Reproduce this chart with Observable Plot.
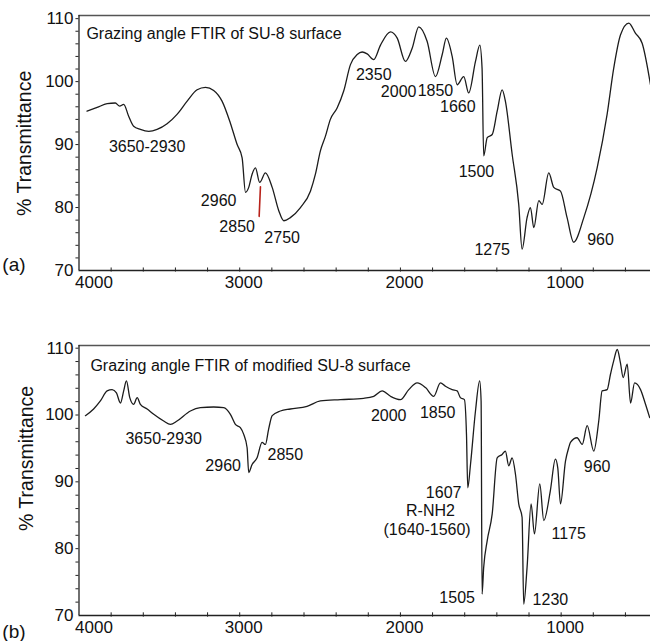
<!DOCTYPE html>
<html><head><meta charset="utf-8">
<script src="https://cdn.jsdelivr.net/npm/d3@7"></script>
<script src="https://cdn.jsdelivr.net/npm/@observablehq/plot@0.6"></script>
<style>
body{margin:0;background:#fff;}
#chart svg{display:block;}
</style></head><body><div id="chart"></div>
<script>
// ---- data: panel (a) SU-8 surface ----
const a_wn = [3950,3887,3825,3774,3747,3722,3691,3660,3618,3566,3514,3452,3390,3327,3265,3213,3162,3110,3058,3016,2985,2964,2944,2923,2902,2876,2840,2798,2757,2726,2685,2622,2560,2529,2498,2467,2436,2394,2353,2311,2269,2238,2207,2166,2124,2062,2020,1969,1927,1886,1834,1782,1740,1714,1678,1647,1606,1575,1533,1506,1492,1482,1460,1429,1398,1367,1347,1305,1264,1243,1212,1191,1170,1139,1118,1077,1046,1004,963,922,859,776,714,673,631,579,538,496,444];
const a_t = [95.3,95.9,96.5,96.6,96.1,96.4,94.5,92.9,92.4,92.1,92.4,93.3,94.8,96.9,98.7,99.1,98.6,96.9,93.4,90.0,87.9,82.4,83.2,85.3,86.3,84.0,85.5,83.2,79.5,77.9,78.4,80.0,82.6,85.3,89.0,91.3,94.0,95.8,98.5,102.7,104.3,104.7,104.4,103.5,105.8,107.9,106.9,103.2,105.3,108.7,106.4,100.8,104.3,106.9,104.0,99.5,100.8,98.2,103.2,105.8,102.1,88.2,91.1,91.6,95.3,98.7,96.9,88.5,80.5,73.4,78.4,80.0,76.8,81.1,80.5,85.5,83.2,82.6,78.4,74.5,78.4,86.3,94.8,102.1,107.4,109.3,107.7,106.1,99.5];
const a_title = "Grazing angle FTIR of SU-8 surface";
const a_labels = ["3650-2930","2960","2850","2750","2350","2000","1850","1660","1500","1275","960"];
const a_label_wn = [3576,3131,3016,2736,2166,2011,1782,1643,1527,1429,755];
const a_label_t = [89.7,81.1,76.9,75.2,101.0,98.3,98.6,96.0,85.6,73.3,74.9];
const a_marker_wn = [2871,2879];
const a_marker_t = [83.3,78.6];

// ---- data: panel (b) modified SU-8 surface ----
const b_wn = [3960,3909,3867,3825,3794,3767,3742,3722,3705,3684,3660,3638,3618,3576,3535,3473,3431,3390,3307,3245,3162,3100,3058,3027,2996,2975,2954,2944,2923,2892,2861,2840,2820,2798,2747,2685,2581,2498,2373,2228,2166,2114,2062,2000,1948,1896,1844,1793,1751,1720,1678,1647,1627,1602,1589,1581,1564,1533,1507,1498,1492,1482,1460,1429,1398,1367,1347,1326,1305,1284,1264,1243,1233,1212,1187,1166,1133,1108,1067,1036,1021,1004,973,953,942,901,869,838,797,766,745,714,693,673,651,631,614,589,568,543,506,475,449];
const b_t = [99.9,100.9,102.1,103.6,103.8,103.3,101.8,103.6,105.1,102.6,101.6,102.6,101.6,100.9,100.1,99.1,98.6,99.1,100.6,101.1,101.2,101.1,100.1,98.6,98.1,97.1,95.1,91.4,92.6,93.6,95.9,95.6,97.9,99.9,100.6,100.9,101.3,102.1,102.3,102.5,102.8,103.6,102.8,102.3,103.8,104.8,104.1,102.8,104.8,104.3,103.8,103.6,102.6,102.3,97.1,89.1,92.6,100.6,105.1,102.1,73.2,77.2,81.2,85.2,93.6,94.1,94.6,92.4,93.6,91.1,86.7,84.7,71.7,77.2,86.7,82.2,89.7,84.2,88.7,93.4,92.1,86.7,93.1,95.1,95.9,96.6,95.6,98.4,94.6,99.1,103.6,103.8,106.1,108.1,109.8,107.8,105.6,107.6,101.8,104.8,103.8,101.6,99.6];
const b_title = "Grazing angle FTIR of modified SU-8 surface";
const b_labels = ["3650-2930","2960","2850","2000","1850","1607","R-NH2","(1640-1560)","1505","1230","1175","960"];
const b_label_wn = [3473,3103,2716,2073,1768,1731,1813,1834,1647,1067,953,776];
const b_label_t = [96.4,92.4,94.1,99.9,100.3,88.3,85.6,82.8,72.7,72.3,82.2,92.2];

// ---- axes ----
const xTicksFirst = [4000];
const xTicks = [3000,2000,1000];
const xMinor = [3800,3600,3400,3200,3000,2800,2600,2400,2200,2000,1800,1600,1400,1200,1000,800,600];
const yTicks = [70,80,90,100,110];
const yMinor = [72,74,76,78,80,82,84,86,88,90,92,94,96,98,100,102,104,106,108,110];
const yLabel = "% Transmittance";

const FONT = "'Liberation Sans', Arial, Helvetica, sans-serif";

function panel(o) {
  const data = o.wn.map((w, i) => ({wn: w, t: o.t[i]}));
  const ann = o.labels.map((s, i) => ({s, x: o.lwn[i], y: o.lt[i]}));
  const marks = [
    Plot.ruleY([o.yMax], {stroke: "#555", strokeWidth: 1.3}),
    Plot.ruleY([70], {stroke: "#222", strokeWidth: 1.3}),
    Plot.ruleX([4000], {y1: 70, y2: o.yMax, stroke: "#222", strokeWidth: 1.3}),
    Plot.ruleX(xMinor, {y1: 69.75, y2: 70.4, stroke: "#222", strokeWidth: 1}),
    Plot.ruleY(yMinor, {x1: 4000, x2: 4019, stroke: "#222", strokeWidth: 1}),
    Plot.axisX(xTicksFirst, {tickSize: 0, tickPadding: 5, fontSize: 17, dx: 15, tickFormat: d => String(d), label: null}),
    Plot.axisX(xTicks, {tickSize: 0, tickPadding: 5, fontSize: 17, dx: 4, tickFormat: d => String(d), label: null}),
    Plot.axisY(yTicks, {tickSize: 0, tickPadding: 5.5, fontSize: 17, label: null}),
    Plot.line(data, {x: "wn", y: "t", stroke: "#1c1c1c", strokeWidth: 1.3, curve: "monotone-x", clip: true}),
    Plot.text(ann, {x: "x", y: "y", text: "s", fontSize: 16, fill: "#111"}),
    Plot.text([o.title], {x: o.titleWn, y: o.titleT, text: d => d, textAnchor: "start", fontSize: 16, fill: "#111"}),
    Plot.text([yLabel], {x: o.ylabWn, y: o.ylabT, text: d => d, rotate: -90, fontSize: 19.5, fill: "#111"}),
    Plot.text([o.tag], {x: 4477, y: o.tagT, text: d => d, textAnchor: "start", fontSize: 19, fill: "#111"})
  ];
  if (o.marker) {
    marks.push(Plot.line(o.marker.wn.map((w, i) => ({wn: w, t: o.marker.t[i]})), {x: "wn", y: "t", stroke: "#b8221a", strokeWidth: 1.6}));
  }
  return Plot.plot({
    width: 650, height: o.height,
    marginLeft: 78.5, marginRight: 0, marginTop: o.mt, marginBottom: o.mb,
    x: {domain: [4000, 444], axis: null},
    y: {domain: [70, o.yMax], axis: null},
    style: {fontFamily: FONT, background: "white", overflow: "visible", color: "#111"},
    marks
  });
}

const chart = document.getElementById("chart");
chart.append(panel({
  wn: a_wn, t: a_t, labels: a_labels, lwn: a_label_wn, lt: a_label_t,
  title: a_title, titleWn: 3954, titleT: 107.6,
  ylabWn: 4340, ylabT: 90.2, tag: "(a)", tagT: 70.95,
  height: 300, mt: 15, mb: 30, yMax: 110.5,
  marker: {wn: a_marker_wn, t: a_marker_t}
}));
chart.append(panel({
  wn: b_wn, t: b_t, labels: b_labels, lwn: b_label_wn, lt: b_label_t,
  title: b_title, titleWn: 3929, titleT: 107.4,
  ylabWn: 4327, ylabT: 93.5, tag: "(b)", tagT: 67.5,
  height: 341, mt: 45, mb: 26, yMax: 110.4
}));
</script>
</body></html>
